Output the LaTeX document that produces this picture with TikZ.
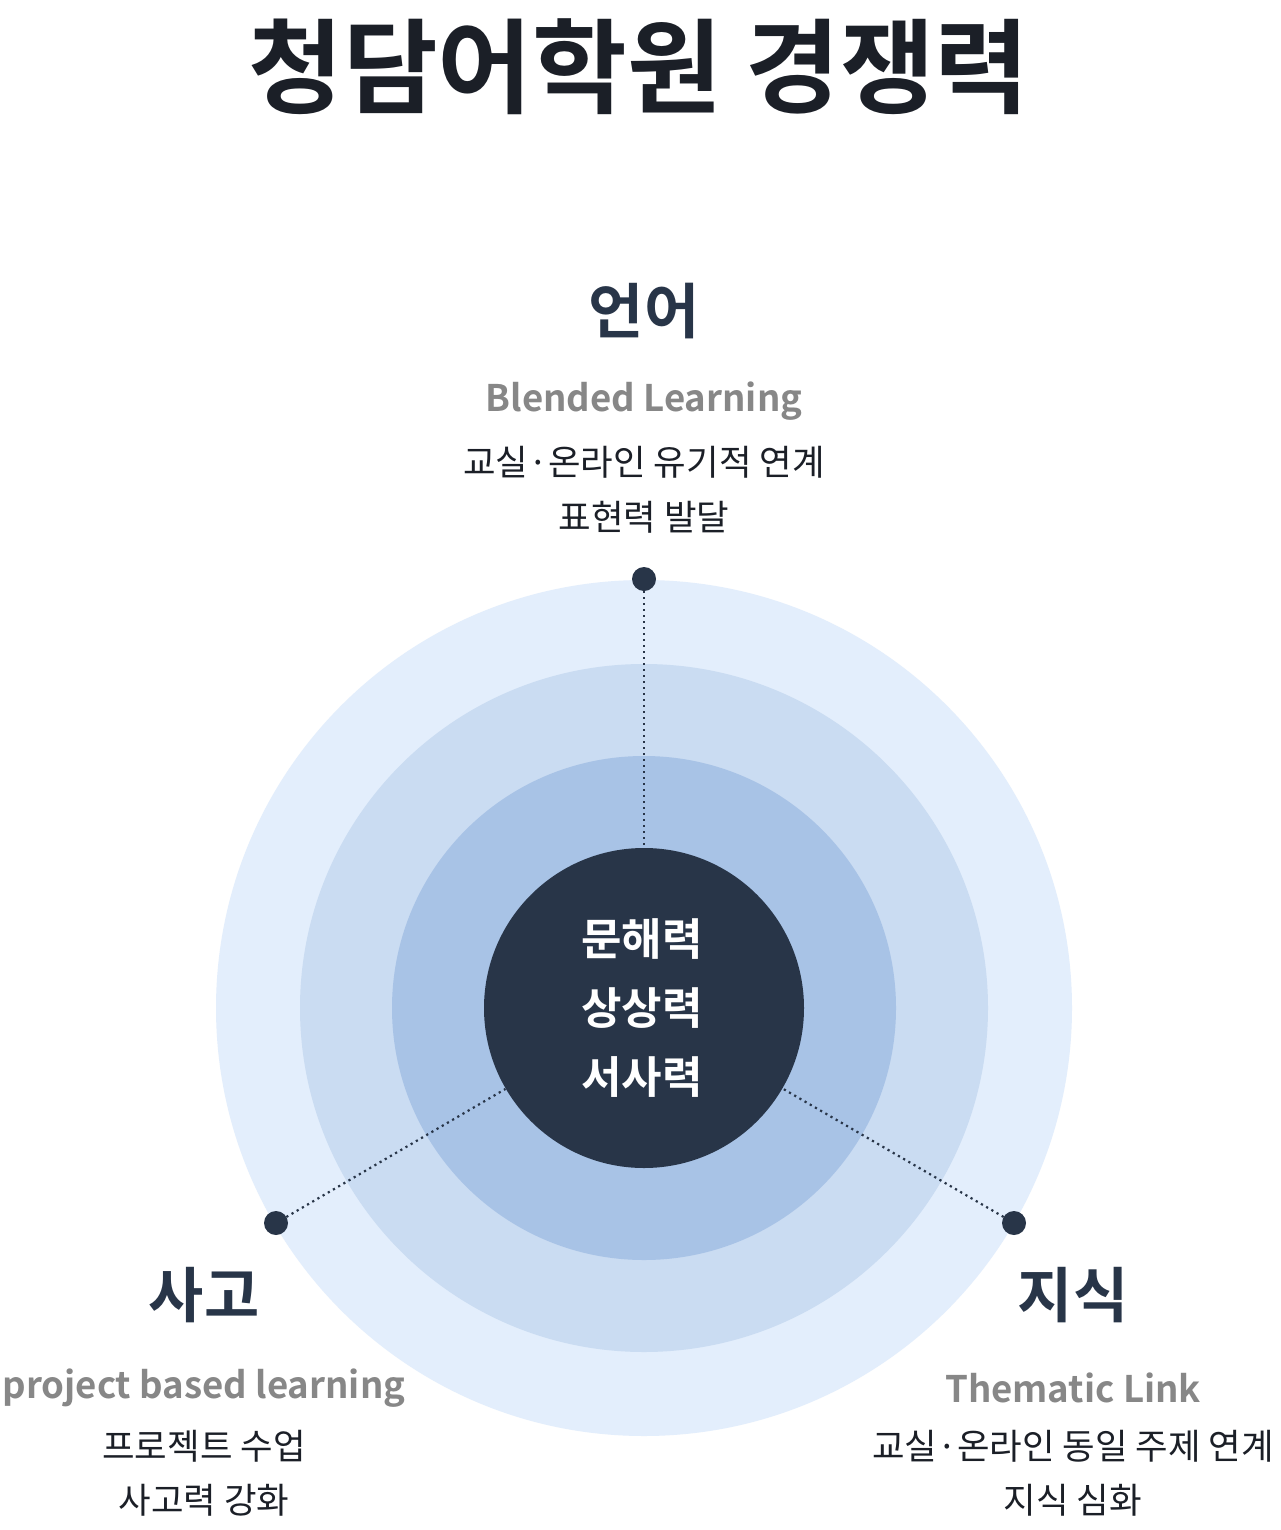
\documentclass[tikz,border=0pt]{standalone}
\usepackage{fontspec}
\setmainfont{Noto Sans CJK KR}
\newfontfamily\krbold{Noto Sans CJK KR Bold}
\definecolor{navy}{HTML}{283548}
\definecolor{ringA}{HTML}{E3EEFC}
\definecolor{ringB}{HTML}{CADCF2}
\definecolor{ringC}{HTML}{A8C3E6}
\definecolor{subgray}{HTML}{878787}
\definecolor{bodytxt}{HTML}{1B1F27}
\tikzset{
    heading/.style={font=\krbold\fontsize{30pt}{32pt}\selectfont, text=navy},
    subtitle/.style={font=\krbold\fontsize{18.3pt}{20pt}\selectfont, text=subgray},
    bodyline/.style={font=\fontsize{17.7pt}{19pt}\selectfont, text=bodytxt},
    pin/.style={circle, fill=navy, inner sep=0pt, minimum size=12pt},
    link/.style={navy, line width=1.1pt, dash pattern=on 1.1pt off 1.9pt}
}
\begin{document}
\begin{tikzpicture}[x=0.5pt,y=-0.5pt]
        \useasboundingbox[fill=white] (0,0) rectangle (1280,1530);
        % rings
        \foreach \r/\c in {428/ringA, 344/ringB, 252/ringC} {
            \fill[\c] (644,1008) circle[radius=\r];
        }
        \node[circle, fill=navy, minimum size=160pt, inner sep=0pt] (core) at (644,1008) {};
        \node[font=\krbold\fontsize{22pt}{34.5pt}\selectfont, text=white, align=center] (coretext) at (642,1008) {문해력\\상상력\\서사력};
        % title
        \node[font=\krbold\fontsize{51.5pt}{53pt}\selectfont, text=bodytxt] (title) at (639,67) {청담어학원 경쟁력};
        % pins
        \node[pin] (pinlang) at (644,579) {};
        \node[pin] (pinthink) at (276,1223) {};
        \node[pin] (pinknow) at (1014,1223) {};
        \draw[link] (pinlang.center) -- (core);
        \draw[link] (pinthink.center) -- (core);
        \draw[link] (pinknow.center) -- (core);
        % labels
        \node[heading] (lang) at (644,311) {언어};
        \node[subtitle] (langsub) at (644,401) {Blended Learning};
        \node[bodyline] (langa) at (644,462) {교실·온라인 유기적 연계};
        \node[bodyline] (langb) at (644,517) {표현력 발달};
        \node[heading] (think) at (204,1295) {사고};
        \node[subtitle] (thinksub) at (204,1388) {project based learning};
        \node[bodyline] (thinka) at (204,1446) {프로젝트 수업};
        \node[bodyline] (thinkb) at (204,1500) {사고력 강화};
        \node[heading] (know) at (1073,1295) {지식};
        \node[subtitle] (knowsub) at (1073,1388) {Thematic Link};
        \node[bodyline] (knowa) at (1073,1446) {교실·온라인 동일 주제 연계};
        \node[bodyline] (knowb) at (1073,1500) {지식 심화};
    \end{tikzpicture}
\end{document}
